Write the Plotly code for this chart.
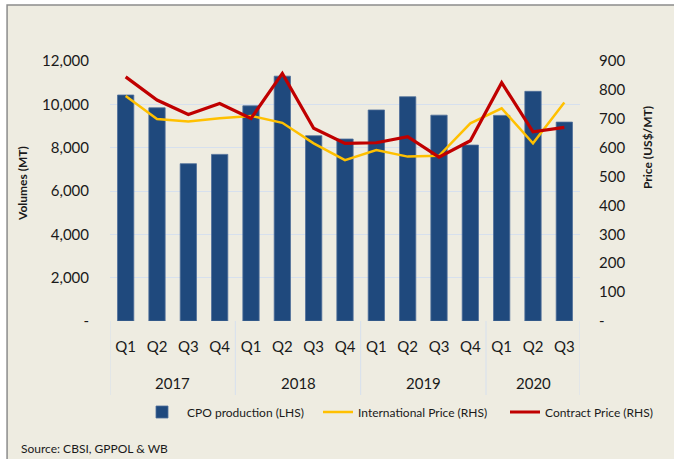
import plotly.graph_objects as go

years = ["2017"] * 4 + ["2018"] * 4 + ["2019"] * 4 + ["2020"] * 3
quarters = ["Q1", "Q2", "Q3", "Q4"] * 3 + ["Q1", "Q2", "Q3"]

cpo_production = [10430, 9840, 7260, 7690, 9930, 11300, 8550, 8400,
                  9740, 10350, 9500, 8120, 9490, 10600, 9180]
international_price = [779, 699, 691, 702, 710, 686, 615, 557,
                       592, 569, 572, 684, 736, 615, 756]
contract_price = [845, 765, 715, 753, 701, 857, 667, 615,
                  617, 638, 567, 624, 825, 655, 670]

left_ticks = [0, 2000, 4000, 6000, 8000, 10000, 12000]
left_ticktext = ["-", "2,000", "4,000", "6,000", "8,000", "10,000", "12,000"]
right_ticks = [0, 100, 200, 300, 400, 500, 600, 700, 800, 900]
right_ticktext = ["-", "100", "200", "300", "400", "500", "600", "700", "800", "900"]

FONT = "Lato"
idx = list(range(len(quarters)))

PX_L, PX_W = 110, 470
PX_TOP, PX_BOT, PX_H = 61, 321, 260
def py(px):
    return (PX_BOT - px) / PX_H
def px_(x):
    return (x - PX_L) / PX_W

fig = go.Figure()
fig.add_trace(go.Bar(x=idx, y=cpo_production, name="CPO production (LHS)",
                     marker=dict(color="#1F497D", line=dict(color="#4F6F99", width=0.8)),
                     yaxis="y", legend="legend"))
fig.add_trace(go.Scatter(x=idx, y=international_price, name="International Price (RHS)",
                         mode="lines", line=dict(color="#FFC000", width=2.5), yaxis="y2",
                         legend="legend2"))
fig.add_trace(go.Scatter(x=idx, y=contract_price, name="Contract Price (RHS)",
                         mode="lines", line=dict(color="#C00000", width=3.2), yaxis="y2",
                         legend="legend3"))

# year group labels and dividers derived from the category lists
groups = []
for i, yr in enumerate(years):
    if not groups or groups[-1][0] != yr:
        groups.append([yr, i, i])
    else:
        groups[-1][2] = i

shapes = [dict(type="rect", xref="paper", yref="paper",
               x0=-0.219, x1=1.3, y0=-0.6, y1=py(5),
               fillcolor="#EEECE1", line=dict(color="#8C8C8C", width=1.5),
               layer="below")]
annotations = []
bounds = sorted({g[1] - 0.5 for g in groups} | {groups[-1][2] + 0.5})
for b in bounds:
    shapes.append(dict(type="line", xref="x", yref="paper", x0=b, x1=b,
                       y0=0, y1=py(395), line=dict(color="#D6E0EE", width=1)))
for yr, a, b in groups:
    annotations.append(dict(text=yr, xref="x", yref="paper", x=(a + b) / 2,
                            y=py(383), yanchor="middle", showarrow=False,
                            font=dict(size=15, family=FONT, color="#1a1a1a")))

annotations += [
    dict(text="<b>Volumes (MT)</b>", xref="paper", yref="paper",
         x=px_(22), xanchor="center", y=py(184), yanchor="middle", textangle=-90,
         showarrow=False, font=dict(size=12, family=FONT)),
    dict(text="<b>Price (US$/MT)</b>", xref="paper", yref="paper",
         x=px_(647), xanchor="center", y=py(148), yanchor="middle", textangle=-90,
         showarrow=False, font=dict(size=12, family=FONT)),
    dict(text="Source: CBSI, GPPOL & WB", xref="paper", yref="paper",
         x=px_(19), xanchor="left", y=py(448), yanchor="middle",
         showarrow=False, font=dict(size=12, family=FONT)),
]

def leg(xpx, iw):
    return dict(orientation="h", x=px_(xpx), xanchor="left", y=py(412),
                yanchor="middle", font=dict(size=12, family=FONT),
                bgcolor="rgba(0,0,0,0)", itemwidth=iw)

fig.update_layout(
    width=674, height=459,
    margin=dict(l=PX_L, r=674 - PX_L - PX_W, t=PX_TOP, b=459 - PX_BOT),
    paper_bgcolor="white",
    plot_bgcolor="rgba(0,0,0,0)",
    font=dict(family=FONT, size=15, color="#1a1a1a"),
    bargap=0.48,
    showlegend=True,
    legend=leg(137, 40),
    legend2=leg(318, 30),
    legend3=leg(505, 30),
    xaxis=dict(range=[-0.5, len(idx) - 0.5], tickvals=idx, ticktext=quarters,
               showgrid=False, ticks="", showline=False, zeroline=False,
               ticklabelstandoff=15, tickfont=dict(size=15)),
    yaxis=dict(range=[0, 12000], tickvals=left_ticks, ticktext=left_ticktext,
               showgrid=True, gridcolor="#D6E0EE", gridwidth=1, zeroline=False,
               ticks="", ticklabelstandoff=20, tickfont=dict(size=15)),
    yaxis2=dict(range=[0, 900], tickvals=right_ticks, ticktext=right_ticktext,
                overlaying="y", side="right", showgrid=False, zeroline=False,
                ticks="", ticklabelstandoff=18, tickfont=dict(size=15)),
    shapes=shapes,
    annotations=annotations,
)

fig.write_html("out.html", config={"displayModeBar": False},
               post_script="document.body.style.margin='0px';")
